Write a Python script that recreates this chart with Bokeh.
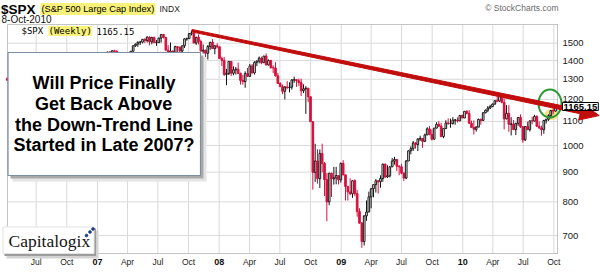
import pandas as pd
from math import log10, hypot
from bokeh.plotting import figure
from bokeh.models import Range1d, Label, ColumnDataSource
from bokeh.core.properties import value
from bokeh.embed import file_html
from bokeh.resources import INLINE

# ---------------- data (weekly $SPX, week ending Friday) ----------------
first_week = "2006-04-07"
first_open = 1302.9
close = [
    1295.5, 1289.1, 1311.3, 1310.6, 1325.8, 1291.2, 1267.0, 1280.2, 1288.2, 1252.3, 1251.5, 1244.5, 1270.2,
    1265.5, 1236.2, 1240.3, 1278.6, 1279.4, 1266.7, 1302.3, 1295.1, 1311.0, 1298.9, 1319.7, 1314.8, 1335.8,
    1349.6, 1365.6, 1368.6, 1377.3, 1364.3, 1380.9, 1401.2, 1400.9, 1396.7, 1409.8, 1427.1, 1410.8, 1418.3,
    1409.7, 1430.7, 1430.5, 1422.2, 1448.4, 1438.1, 1455.5, 1451.2, 1387.2, 1402.8, 1386.9, 1436.1, 1420.9,
    1443.8, 1452.9, 1484.4, 1494.1, 1505.6, 1505.9, 1522.8, 1515.7, 1536.3, 1507.7, 1532.9, 1502.6, 1503.4,
    1530.4, 1552.5, 1534.1, 1458.9, 1433.1, 1453.6, 1445.9, 1479.4, 1474.0, 1453.6, 1484.3, 1525.8, 1526.8,
    1557.6, 1561.8, 1500.6, 1535.3, 1509.7, 1453.7, 1458.7, 1440.7, 1481.1, 1504.7, 1468.0, 1484.5, 1478.5,
    1411.6, 1401.0, 1325.2, 1330.6, 1395.4, 1331.3, 1350.0, 1353.1, 1330.6, 1293.4, 1288.1, 1329.5, 1315.2,
    1370.4, 1332.8, 1390.3, 1397.8, 1413.9, 1388.3, 1425.4, 1375.9, 1400.4, 1360.7, 1360.0, 1317.9, 1278.4,
    1262.9, 1239.5, 1260.7, 1257.8, 1260.3, 1296.3, 1298.2, 1292.2, 1282.8, 1242.3, 1251.7, 1255.1, 1213.3,
    1099.2, 899.2, 940.6, 876.8, 968.8, 931.0, 873.3, 800.0, 896.2, 876.1, 879.7, 887.9, 872.8,
    931.8, 890.4, 850.1, 832.0, 825.9, 869.9, 826.8, 770.1, 735.1, 683.4, 756.6, 768.5, 815.9,
    842.5, 856.6, 869.6, 866.2, 877.5, 929.2, 882.9, 887.0, 919.1, 940.1, 946.2, 921.2, 918.9,
    896.4, 879.1, 940.4, 979.3, 987.5, 1010.5, 1004.1, 1026.1, 1028.9, 1016.4, 1042.7, 1068.3, 1044.4,
    1025.2, 1071.5, 1087.7, 1079.6, 1036.2, 1069.3, 1093.5, 1091.4, 1091.5, 1106.0, 1106.4, 1102.5, 1126.5, 1115.1,
    1145.0, 1136.0, 1091.8, 1073.9, 1066.2, 1075.5, 1109.2, 1104.5, 1138.7, 1150.0, 1159.9, 1166.6, 1178.1,
    1194.4, 1192.1, 1217.3, 1186.7, 1110.9, 1135.7, 1087.7, 1089.4, 1064.9, 1091.6, 1117.5, 1076.8, 1022.6,
    1078.0, 1064.9, 1102.7, 1101.6, 1121.6, 1079.3, 1071.7, 1064.6, 1104.5, 1109.6, 1125.6, 1148.7, 1146.2, 1165.15,
]
high = [
    1310.1, 1300.0, 1318.2, 1314.7, 1326.7, 1326.7, 1294.8, 1282.7, 1290.7, 1288.2, 1258.1, 1257.9, 1271.0,
    1280.4, 1273.0, 1256.9, 1280.4, 1287.5, 1283.2, 1302.3, 1302.5, 1312.0, 1314.7, 1320.1, 1328.5, 1340.3,
    1352.0, 1366.6, 1372.9, 1389.5, 1381.4, 1388.9, 1403.8, 1407.9, 1404.2, 1415.3, 1431.6, 1427.7, 1427.0,
    1429.4, 1432.0, 1435.3, 1440.7, 1449.3, 1451.9, 1457.0, 1461.6, 1459.1, 1409.0, 1415.9, 1438.9, 1437.8,
    1444.9, 1453.1, 1484.7, 1498.0, 1510.3, 1513.8, 1522.8, 1529.3, 1540.6, 1540.6, 1538.7, 1540.4, 1518.6,
    1533.1, 1555.1, 1555.9, 1538.0, 1488.3, 1503.9, 1456.0, 1484.8, 1481.5, 1481.5, 1485.0, 1530.2, 1533.7,
    1561.9, 1576.1, 1562.4, 1535.3, 1552.8, 1520.8, 1492.1, 1462.0, 1488.9, 1508.1, 1523.6, 1485.4, 1498.9,
    1479.0, 1421.9, 1420.8, 1354.7, 1396.0, 1395.4, 1368.0, 1365.0, 1388.3, 1335.0, 1321.7, 1341.5, 1359.7,
    1381.0, 1380.9, 1395.9, 1399.0, 1422.7, 1421.6, 1425.9, 1440.2, 1406.3, 1404.1, 1374.2, 1391.2, 1333.2,
    1285.7, 1273.9, 1266.0, 1290.7, 1284.6, 1300.5, 1313.2, 1300.7, 1303.0, 1303.0, 1274.4, 1265.1, 1255.1,
    1215.4, 1099.2, 1006.9, 985.4, 984.4, 1007.5, 937.1, 896.2, 896.3, 897.0, 918.9, 918.9, 887.9,
    934.7, 943.9, 890.4, 852.5, 877.9, 870.8, 875.0, 838.2, 780.1, 739.0, 758.3, 804.5, 833.0,
    845.6, 856.9, 875.6, 871.8, 888.7, 930.2, 930.2, 924.6, 920.0, 951.7, 956.2, 946.2, 925.0,
    930.2, 898.7, 944.0, 979.8, 996.7, 1018.0, 1013.1, 1029.6, 1039.5, 1028.0, 1048.2, 1074.8, 1080.2,
    1065.6, 1071.5, 1096.6, 1101.4, 1094.2, 1071.5, 1105.4, 1113.7, 1112.4, 1119.1, 1110.7, 1117.7, 1126.5, 1130.4,
    1145.4, 1150.4, 1150.5, 1103.7, 1104.7, 1080.0, 1112.4, 1112.4, 1139.0, 1153.4, 1169.2, 1174.9, 1181.4,
    1194.7, 1213.9, 1217.3, 1219.8, 1205.1, 1173.6, 1173.0, 1118.7, 1105.7, 1094.0, 1119.3, 1131.2, 1080.1,
    1080.0, 1099.1, 1103.7, 1121.0, 1129.2, 1127.3, 1100.1, 1081.6, 1105.1, 1110.9, 1131.5, 1148.9, 1162.2, 1167.7,
]
low = [
    1294.0, 1280.7, 1285.4, 1296.0, 1303.5, 1290.4, 1256.6, 1245.3, 1259.9, 1235.2, 1219.3, 1237.6, 1234.0,
    1262.8, 1235.3, 1224.5, 1240.1, 1265.4, 1261.2, 1264.5, 1287.3, 1284.9, 1294.1, 1292.9, 1310.9, 1313.7,
    1327.1, 1342.5, 1356.9, 1365.9, 1357.2, 1362.0, 1379.3, 1398.2, 1377.8, 1395.0, 1407.9, 1409.5, 1407.8,
    1403.9, 1405.0, 1421.1, 1416.8, 1419.7, 1436.9, 1431.7, 1449.1, 1374.1, 1363.9, 1364.0, 1386.9, 1412.8,
    1416.4, 1433.9, 1452.9, 1478.0, 1478.3, 1488.9, 1498.2, 1500.6, 1504.0, 1487.0, 1492.8, 1502.6, 1484.2,
    1503.4, 1504.0, 1528.2, 1458.0, 1432.8, 1429.0, 1370.6, 1443.7, 1432.0, 1449.0, 1439.3, 1471.8, 1514.0,
    1526.8, 1546.7, 1500.6, 1489.6, 1492.5, 1450.0, 1439.6, 1419.0, 1406.1, 1460.9, 1467.4, 1435.6, 1468.6,
    1411.2, 1370.2, 1316.8, 1270.0, 1322.1, 1316.8, 1320.7, 1324.6, 1330.6, 1272.7, 1272.7, 1257.0, 1312.8,
    1312.6, 1331.0, 1324.4, 1369.5, 1384.1, 1379.7, 1386.2, 1373.7, 1373.1, 1356.7, 1332.6, 1314.5, 1278.0,
    1260.7, 1225.3, 1200.4, 1251.4, 1234.4, 1247.9, 1282.2, 1261.4, 1266.2, 1217.2, 1231.0, 1133.5, 1187.4,
    1098.0, 839.8, 865.8, 859.8, 845.3, 899.7, 818.7, 741.0, 789.4, 815.7, 856.7, 857.7, 857.1,
    863.2, 888.3, 804.5, 804.2, 821.7, 812.9, 818.4, 754.3, 734.5, 666.8, 672.9, 742.1, 768.5,
    779.8, 814.5, 830.0, 826.8, 846.2, 866.1, 878.9, 879.6, 881.5, 919.0, 927.1, 903.8, 888.9,
    892.6, 869.3, 875.3, 940.4, 965.6, 978.5, 987.6, 978.5, 1017.7, 991.0, 1016.4, 1042.5, 1041.2,
    1020.2, 1025.2, 1070.0, 1075.9, 1033.4, 1029.4, 1069.3, 1085.3, 1073.1, 1086.2, 1085.9, 1095.4, 1102.5, 1114.8,
    1115.1, 1131.4, 1090.2, 1071.6, 1044.5, 1056.5, 1075.5, 1086.0, 1103.3, 1135.8, 1141.1, 1155.9, 1165.0,
    1175.4, 1186.8, 1188.0, 1181.6, 1065.8, 1110.0, 1055.9, 1040.8, 1063.0, 1042.2, 1081.1, 1071.6, 1010.9,
    1018.0, 1063.0, 1056.9, 1088.0, 1100.0, 1076.4, 1069.0, 1039.7, 1047.9, 1091.2, 1102.4, 1113.5, 1131.9, 1144.2,
]
last_value = 1165.15

quarter_ticks = ["2006-07-01", "2006-10-01", "2007-01-01", "2007-04-01", "2007-07-01", "2007-10-01",
                 "2008-01-01", "2008-04-01", "2008-07-01", "2008-10-01", "2009-01-01", "2009-04-01",
                 "2009-07-01", "2009-10-01", "2010-01-01", "2010-04-01", "2010-07-01", "2010-10-01"]
quarter_labels = ["Jul", "Oct", "07", "Apr", "Jul", "Oct", "08", "Apr", "Jul", "Oct", "09", "Apr",
                  "Jul", "Oct", "10", "Apr", "Jul", "Oct"]
price_ticks = [700, 800, 900, 1000, 1100, 1200, 1300, 1400, 1500]
price_labels = [str(v) for v in price_ticks]

trend_start = ("2007-10-11", 1576.1)   # late-2007 peak
trend_tip = ("2011-02-14", 1126.0)     # arrow tip, right of the price scale

headline = ["Will Price Finally", "Get Back Above", "the Down-Trend Line", "Started in Late 2007?"]

# ---------------- geometry ----------------
W, H = 600, 275
FL, FR, FT, FB = 7, 557, 24, 253          # price panel inside the canvas (px)
base = pd.Timestamp("2006-01-01")
X0, X1 = 95, 1745                          # days since base at panel left / right
Y0, Y1 = 652.0, 1615.0                     # prices at panel bottom / top
LY0, LY1 = log10(Y0), log10(Y1)


def day(d):
    return (pd.Timestamp(d) - base).days


def xd(px):
    return X0 + (px - FL) * (X1 - X0) / (FR - FL)


def yd(py):
    return 10 ** (LY0 + (FB - py) * (LY1 - LY0) / (FB - FT))


def xp(x):
    return FL + (x - X0) * (FR - FL) / (X1 - X0)


def yp(y):
    return FB - (log10(y) - LY0) * (FB - FT) / (LY1 - LY0)


RED = "#d6123f"
TREND = "#c20d0d"
SANS = "Liberation Sans"
MONO = "DejaVu Sans Mono"

p = figure(width=W, height=H, x_range=Range1d(xd(0), xd(W)), y_range=Range1d(yd(H), yd(0)),
           y_axis_type="log", x_axis_location=None, y_axis_location=None,
           output_backend="svg", toolbar_location=None, min_border=0)
p.background_fill_color = "white"
p.border_fill_color = "white"
p.outline_line_color = None
p.grid.visible = False

# ---------------- price panel: grid, frame ----------------
qdays = [day(d) for d in quarter_ticks]
p.segment(x0=qdays, y0=[Y0] * len(qdays), x1=qdays, y1=[Y1] * len(qdays),
          line_color="#dadada", line_width=1)
p.segment(x0=[X0] * len(price_ticks), y0=price_ticks, x1=[X1] * len(price_ticks), y1=price_ticks,
          line_color="#dadada", line_width=1)
p.segment(x0=[X0, X0, X0], y0=[Y1, Y0, Y0], x1=[X1, X1, X0], y1=[Y1, Y0, Y1],
          line_color="#c4c4c4", line_width=1)
p.segment(x0=[X1], y0=[Y0], x1=[X1], y1=[Y1], line_color="#8a8a8a", line_width=1,
          line_dash="1 1")

# ---------------- candles ----------------
dates = pd.date_range(first_week, periods=len(close), freq="W-FRI")
xs = [(d - base).days - 2 for d in dates]
opens = [first_open] + close[:-1]
up = [c >= o for o, c in zip(opens, close)]
src = ColumnDataSource(dict(
    x=xs, o=opens, c=close, h=high, l=low,
    top=[max(o, c) for o, c in zip(opens, close)],
    bottom=[min(o, c) for o, c in zip(opens, close)],
    fill=["#ffffff" if u else RED for u in up],
    line=["#151515" if u else RED for u in up],
))

# yellow glow behind the latest candles
p.ellipse(x=[xd(551)], y=[yd(114)], width=14, height=11, width_units="screen",
          height_units="screen", fill_color="#f6df72", fill_alpha=0.85, line_color=None)

p.segment(x0="x", y0="l", x1="x", y1="h", line_color="line", line_width=1, source=src)
p.vbar(x="x", width=5, top="top", bottom="bottom", fill_color="fill", line_color="line",
       line_width=1, source=src)

# green circle
p.ellipse(x=[xd(549.5)], y=[yd(103)], width=23, height=28, width_units="screen",
          height_units="screen", fill_color=None, line_color="#2c9a34", line_width=2)

# ---------------- axis tick labels ----------------
p.text(x=[xd(562)] * len(price_ticks), y=price_ticks, text=price_labels,
       text_font=value(SANS), text_font_size="9.5px", text_color="#1a1a1a",
       text_align="left", text_baseline="middle")
months = [(d, t) for d, t in zip(qdays, quarter_labels) if not t.isdigit()]
years = [(d, t) for d, t in zip(qdays, quarter_labels) if t.isdigit()]
p.text(x=[d for d, t in months], y=[yd(261.5)] * len(months), text=[t for d, t in months],
       text_font=value(SANS), text_font_size="8.5px", text_color="#222222",
       text_align="center", text_baseline="middle")
p.text(x=[d for d, t in years], y=[yd(261.5)] * len(years), text=[t for d, t in years],
       text_font=value(SANS), text_font_size="9px", text_font_style=value("bold"),
       text_color="#111111", text_align="center", text_baseline="middle")

# ---------------- headline box ----------------
p.quad(left=[xd(12)], right=[xd(206)], top=[yd(57)], bottom=[yd(181)],
       fill_color="#e4e4e4", line_color=None)
p.quad(left=[xd(10)], right=[xd(203)], top=[yd(55)], bottom=[yd(178)],
       fill_color="#a9a9a9", line_color=None)
p.quad(left=[xd(7.5)], right=[xd(200)], top=[yd(52)], bottom=[yd(175)],
       fill_color="white", line_color="#7d8ea3", line_width=1.2)

# ---------------- Capitalogix logo box ----------------
p.quad(left=[xd(6)], right=[xd(98)], top=[yd(230)], bottom=[yd(258)],
       fill_color="#d2d2d2", line_color=None)
p.quad(left=[xd(4)], right=[xd(95.5)], top=[yd(228)], bottom=[yd(255.5)],
       fill_color="#9c9c9c", line_color=None)
p.quad(left=[xd(2.5)], right=[xd(93.5)], top=[yd(226.5)], bottom=[yd(253)],
       fill_color="white", line_color="#e2e2e2", line_width=1)
p.scatter(x=[xd(86), xd(89.5), xd(92.5)], y=[yd(235), yd(231.5), yd(228.5)], size=2.6,
          color="#1f3c8c")

# ---------------- trend line arrow ----------------
sx0, sy0 = xp(day(trend_start[0])), yp(trend_start[1])
sx1, sy1 = xp(day(trend_tip[0])), yp(trend_tip[1])
L = hypot(sx1 - sx0, sy1 - sy0)
ux, uy = (sx1 - sx0) / L, (sy1 - sy0) / L
nx, ny = -uy, ux
head_len, head_half, shaft_half = 19, 8.5, 2.1
bx, by = sx1 - ux * head_len, sy1 - uy * head_len
pts = [(sx0 + nx * 1.2, sy0 + ny * 1.2), (bx + nx * shaft_half, by + ny * shaft_half),
       (bx + nx * head_half, by + ny * head_half), (sx1, sy1),
       (bx - nx * head_half, by - ny * head_half), (bx - nx * shaft_half, by - ny * shaft_half),
       (sx0 - nx * 1.2, sy0 - ny * 1.2)]
p.patch(x=[xd(a) for a, b in pts], y=[yd(b) for a, b in pts],
        fill_color=TREND, fill_alpha=1.0, line_color=TREND, line_width=1)


# ---------------- texts (py = visual middle of the text line) ----------------
def lab(px, py, text, size, color="#000000", style="normal", font=SANS, align="left",
        bg=None, border=None, pad=0):
    p.add_layout(Label(x=xd(px), y=yd(py), text=text, text_font=font, text_font_size=size,
                       text_font_style=style, text_color=color, text_align=align,
                       text_baseline="middle", background_fill_color=bg,
                       border_line_color=border, padding=pad))


line_y = [82, 103.5, 124.5, 144.5]
for t, yy in zip(headline, line_y):
    lab(103.5, yy, t, "18px", style="bold", align="center")

lab(0.5, 8.5, "$SPX", "13.5px", style="bold")
lab(40, 8.5, "(S&P 500 Large Cap Index)", "9.2px", bg="#f8f27a", pad=1)
lab(159, 8.5, "INDX", "8.5px", color="#222222")
lab(1, 19, "8-Oct-2010", "10px", color="#111111")
lab(558, 7.5, "\u00a9 StockCharts.com", "8.5px", color="#6a6a6a", align="right")

lab(21, 30.5, "$SPX", "9px", font=MONO)
lab(48, 30.5, "(Weekly)", "9px", font=MONO, bg="#f8f27a")
lab(96, 30.5, "1165.15", "9px", font=MONO)

lab(562, 106, f"{last_value:.2f}", "9.5px", style="bold", bg="white", border="#000000", pad=1)

lab(8, 240.5, "Capitalogix", "17.5px", font="Liberation Serif", color="#141414")

open("out.html", "w").write(file_html(p, INLINE))
